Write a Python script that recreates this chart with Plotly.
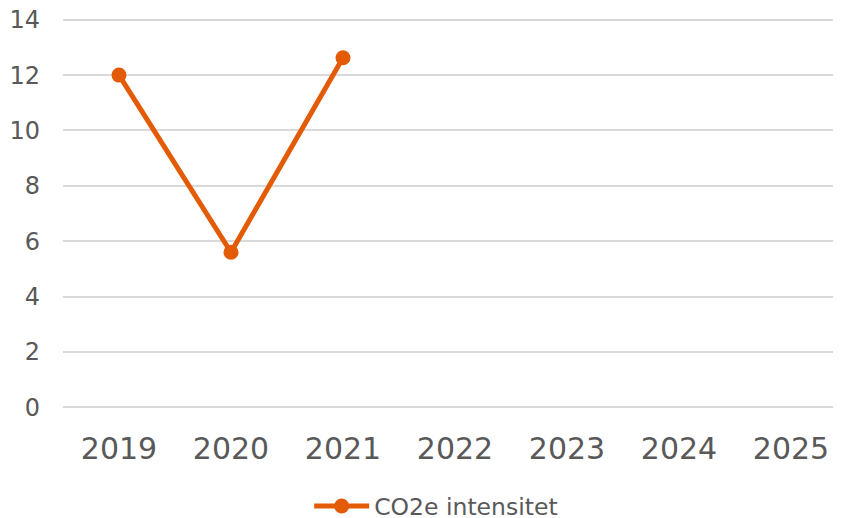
import plotly.graph_objects as go

years = ["2019", "2020", "2021", "2022", "2023", "2024", "2025"]
co2e_values = [12.0, 5.6, 12.63, None, None, None, None]
series_name = "CO2e intensitet"
y_ticks = [0, 2, 4, 6, 8, 10, 12, 14]

orange = "#E35B07"
text_color = "#595959"
grid_color = "#D9D9D9"

fig = go.Figure()
fig.add_trace(go.Scatter(
    x=years, y=co2e_values, name=series_name, mode="lines+markers",
    line=dict(color=orange, width=5), marker=dict(color=orange, size=15),
    connectgaps=False,
))

fig.update_layout(
    width=841, height=510,
    margin=dict(l=55, r=2, t=9, b=108, autoexpand=False),
    paper_bgcolor="white", plot_bgcolor="white",
    font=dict(family="DejaVu Sans", color=text_color),
    showlegend=True,
    legend=dict(orientation="h", x=0.476, xanchor="center", y=-0.245, yanchor="middle",
                font=dict(size=23.5, color=text_color), itemwidth=55),
    xaxis=dict(type="category", categoryorder="array", categoryarray=years,
               range=[-0.5, 6.5], showgrid=False, zeroline=False, showline=False,
               automargin=False, ticklabeloverflow="allow",
               tickfont=dict(size=30, color=text_color), ticks="", ticklabelstandoff=18),
    yaxis=dict(range=[-0.1, 14.1], tickvals=y_ticks, showgrid=True, gridcolor=grid_color,
               gridwidth=2, zeroline=False, showline=False, automargin=False,
               ticklabeloverflow="allow",
               tickfont=dict(size=24, color=text_color), ticks="", ticklabelstandoff=22),
)

fig.write_html("out.html")
